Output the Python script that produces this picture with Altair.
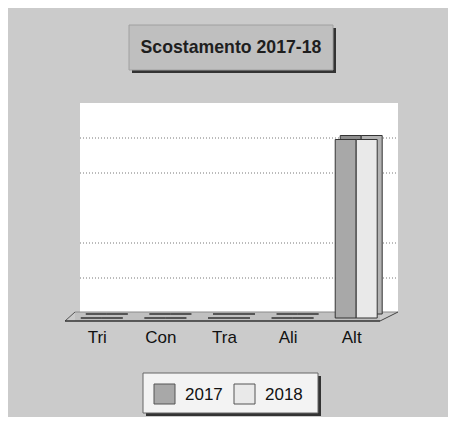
import json
import altair as alt
import pandas as pd

# ---- data ----
categories = ["Tri", "Con", "Tra", "Ali", "Alt"]
years = ["2017", "2018"]
values_2017 = [0, 0, 0, 0, 5.1]
values_2018 = [0, 0, 0, 0, 5.1]
grid_values = [1, 2, 4, 5]
title_text = "Scostamento 2017-18"

# ---- styling ----
front_colors = ["#a8a8a8", "#e9e9e9"]
side_colors = ["#8e8e8e", "#b3b3b3"]
FONT = "Liberation Sans"
BG = "#cbcbcb"
BAR_W = 0.33  # bar width in category units

rows = []
for i, cat in enumerate(categories):
    for j, (yr, vals) in enumerate(zip(years, [values_2017, values_2018])):
        left = i - BAR_W + j * BAR_W
        rows.append(dict(cat=cat, idx=i, year=yr, value=vals[i], x0=left, x1=left + BAR_W))
bars = pd.DataFrame(rows)

xscale = alt.Scale(domain=[-0.5, len(categories) - 0.5], nice=False, zero=False)
yscale = alt.Scale(domain=[0, 6], nice=False)
label_expr = json.dumps(categories) + "[datum.value]"

one = pd.DataFrame({"a": [0]})


def rule(x, y, x2, y2, color, width=1.0):
    return alt.Chart(one).mark_rule(color=color, strokeWidth=width).encode(
        x=alt.value(x), y=alt.value(y), x2=alt.value(x2), y2=alt.value(y2)
    )


# white back wall
wall = alt.Chart(one).mark_rect(color="white").encode(
    x=alt.value(10), x2=alt.value(328), y=alt.value(-5), y2=alt.value(204)
)

# dotted gridlines on the back wall
grid = alt.Chart(pd.DataFrame({"g": grid_values})).mark_rule(
    color="#777777", strokeDash=[1, 2], strokeWidth=1, yOffset=-5
).encode(y=alt.Y("g:Q", scale=yscale, axis=None), x=alt.value(10), x2=alt.value(328))

# floor
floor = alt.Chart(one).mark_rect(color="#c0c0c0").encode(
    x=alt.value(5), x2=alt.value(310), y=alt.value(204), y2=alt.value(213)
)
floor_back = rule(5, 204, 328, 204, "#8a8a8a", 1)
floor_left = rule(-5, 213, 5, 204, "#555555", 1)
floor_right = rule(310, 213, 328, 204, "#444444", 1)
floor_front = rule(-5, 213, 310, 213, "#333333", 1.5)

x_enc = alt.X(
    "x0:Q",
    scale=xscale,
    axis=alt.Axis(
        values=list(range(len(categories))),
        labelExpr=label_expr,
        title=None,
        domain=False,
        ticks=False,
        grid=False,
        labelFont=FONT,
        labelFontSize=17,
        labelColor="#111111",
        labelPadding=11,
        labelOffset=-5,
    ),
)

back = alt.Chart(bars).mark_bar(
    xOffset=5, x2Offset=5, yOffset=-4, y2Offset=-4, stroke="#333333", strokeWidth=1
).encode(
    x=x_enc,
    x2="x1:Q",
    y=alt.Y("value:Q", scale=yscale, axis=None),
    y2=alt.datum(0),
    color=alt.Color("year:N", scale=alt.Scale(domain=years, range=side_colors), legend=None),
)

front = alt.Chart(bars).mark_bar(stroke="#333333", strokeWidth=1).encode(
    x=x_enc,
    x2="x1:Q",
    y=alt.Y("value:Q", scale=yscale, axis=None),
    y2=alt.datum(0),
    fill=alt.Fill("year:N", scale=alt.Scale(domain=years, range=front_colors), legend=None),
)

# title box
title_shadow = alt.Chart(one).mark_rect(color="#333333").encode(
    x=alt.value(62), x2=alt.value(266), y=alt.value(-80), y2=alt.value(-35)
)
title_box = alt.Chart(one).mark_rect(fill="#bfbfbf", stroke="#a0a0a0", strokeWidth=1).encode(
    x=alt.value(59), x2=alt.value(263), y=alt.value(-83), y2=alt.value(-38)
)
title = alt.Chart(pd.DataFrame({"t": [title_text]})).mark_text(
    font=FONT, fontSize=17.7, fontWeight="bold", color="#1e1e1e", align="center", baseline="middle"
).encode(text="t:N", x=alt.value(161), y=alt.value(-60))

# legend box
LY = 265
leg_shadow = alt.Chart(one).mark_rect(color="#333333").encode(
    x=alt.value(76), x2=alt.value(251), y=alt.value(LY + 3), y2=alt.value(LY + 43)
)
leg_box = alt.Chart(one).mark_rect(fill="#f3f3f3", stroke="#666666", strokeWidth=1).encode(
    x=alt.value(73), x2=alt.value(248), y=alt.value(LY), y2=alt.value(LY + 40)
)
legend_layers = []
for k, yr in enumerate(years):
    sx = 84 + 80 * k
    legend_layers.append(
        alt.Chart(one).mark_rect(fill=front_colors[k], stroke="#555555", strokeWidth=1).encode(
            x=alt.value(sx), x2=alt.value(sx + 21), y=alt.value(LY + 11), y2=alt.value(LY + 31)
        )
    )
    legend_layers.append(
        alt.Chart(pd.DataFrame({"t": [yr]})).mark_text(
            font=FONT, fontSize=17, color="#111111", align="left", baseline="middle"
        ).encode(x=alt.value(sx + 31), y=alt.value(LY + 22), text="t:N")
    )

chart = alt.layer(
    wall, grid, floor, floor_back, floor_left, floor_right, floor_front, back, front,
    title_shadow, title_box, title, leg_shadow, leg_box, *legend_layers,
).resolve_scale(color="independent", fill="independent").properties(
    width=318,
    height=210,
    autosize=alt.AutoSizeParams(type="none"),
    padding={"left": 62, "top": 100, "right": 60, "bottom": 99},
    background=BG,
).configure_view(strokeWidth=0)

chart.save("out.html", embed_options={"renderer": "svg", "actions": False})
